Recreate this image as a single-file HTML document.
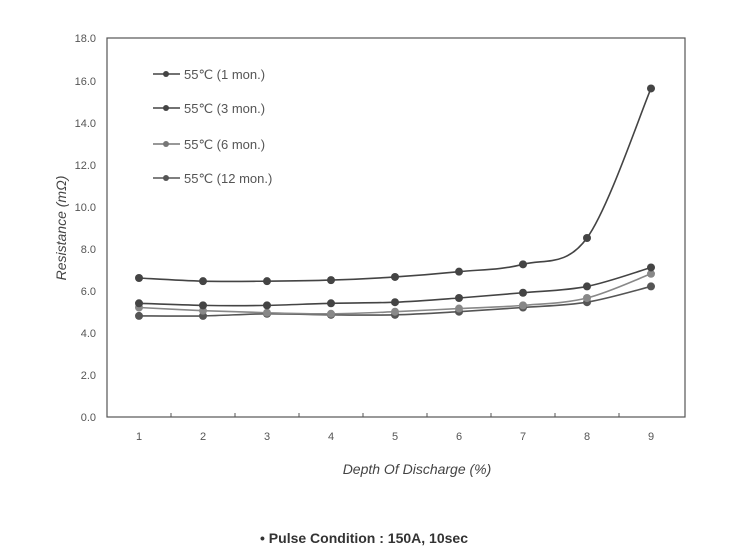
<!DOCTYPE html>
<html><head><meta charset="utf-8"><style>
body{margin:0;background:#fff}
svg{display:block;font-family:"Liberation Sans",sans-serif}
</style></head><body>
<svg id="s" width="730" height="558" viewBox="0 0 730 558" xmlns="http://www.w3.org/2000/svg">
<rect x="107" y="38" width="578" height="379" fill="none" stroke="#555" stroke-width="1.2"/>
<g font-size="11" fill="#555" text-anchor="end">
<text x="96" y="421">0.0</text><text x="96" y="379">2.0</text><text x="96" y="337">4.0</text>
<text x="96" y="295">6.0</text><text x="96" y="253">8.0</text><text x="96" y="211">10.0</text>
<text x="96" y="169">12.0</text><text x="96" y="127">14.0</text><text x="96" y="85">16.0</text>
<text x="96" y="42">18.0</text></g>
<g font-size="11" fill="#555" text-anchor="middle">
<text x="139" y="440">1</text><text x="203" y="440">2</text><text x="267" y="440">3</text>
<text x="331" y="440">4</text><text x="395" y="440">5</text><text x="459" y="440">6</text>
<text x="523" y="440">7</text><text x="587" y="440">8</text><text x="651" y="440">9</text></g>
<g stroke="#555"><line x1="171" y1="417" x2="171" y2="413"/><line x1="235" y1="417" x2="235" y2="413"/><line x1="299" y1="417" x2="299" y2="413"/><line x1="363" y1="417" x2="363" y2="413"/><line x1="427" y1="417" x2="427" y2="413"/><line x1="491" y1="417" x2="491" y2="413"/><line x1="555" y1="417" x2="555" y2="413"/><line x1="619" y1="417" x2="619" y2="413"/></g>
<text x="417" y="474" font-size="14" font-style="italic" fill="#444" text-anchor="middle">Depth Of Discharge (%)</text>
<text transform="translate(66,228) rotate(-90)" font-size="14" font-style="italic" fill="#444" text-anchor="middle">Resistance (mΩ)</text>
<text x="364" y="543" font-size="14" font-weight="bold" fill="#333" text-anchor="middle">• Pulse Condition : 150A, 10sec</text>
<g font-size="13" fill="#555">
<line x1="153" y1="74" x2="180" y2="74" stroke="#444" stroke-width="1.5"/><circle cx="166" cy="74" r="3" fill="#444"/><text x="184" y="79">55℃ (1 mon.)</text>
<line x1="153" y1="108" x2="180" y2="108" stroke="#444" stroke-width="1.5"/><circle cx="166" cy="108" r="3" fill="#444"/><text x="184" y="113">55℃ (3 mon.)</text>
<line x1="153" y1="144" x2="180" y2="144" stroke="#777" stroke-width="1.5"/><circle cx="166" cy="144" r="3" fill="#777"/><text x="184" y="149">55℃ (6 mon.)</text>
<line x1="153" y1="178" x2="180" y2="178" stroke="#555" stroke-width="1.5"/><circle cx="166" cy="178" r="3" fill="#555"/><text x="184" y="183">55℃ (12 mon.)</text>
</g>
<g id="series"></g>
</svg>
<script>
var data=[[[4.8,4.8,4.9,4.85,4.85,5.0,5.2,5.45,6.2],"#555"],
[[5.2,5.05,4.95,4.9,5.0,5.15,5.3,5.65,6.8],"#888"],
[[5.4,5.3,5.3,5.4,5.45,5.65,5.9,6.2,7.1],"#444"],
[[6.6,6.45,6.45,6.5,6.65,6.9,7.25,8.5,15.6],"#444"]];
var g=document.getElementById("series"),h="";
data.forEach(function(d){
 var p=d[0].map(function(v,i){return [139+64*i,417-v*21.06];});
 var s="M"+p[0][0]+","+p[0][1];
 for(var i=0;i<p.length-1;i++){
  var p0=p[i-1]||p[i],p1=p[i],p2=p[i+1],p3=p[i+2]||p2;
  s+=" C"+(p1[0]+(p2[0]-p0[0])/6)+","+(p1[1]+(p2[1]-p0[1])/6)+" "+(p2[0]-(p3[0]-p1[0])/6)+","+(p2[1]-(p3[1]-p1[1])/6)+" "+p2[0]+","+p2[1];
 }
 h+='<path d="'+s+'" fill="none" stroke="'+d[1]+'" stroke-width="1.6"/>';
 p.forEach(function(q){h+='<circle cx="'+q[0]+'" cy="'+q[1]+'" r="4" fill="'+d[1]+'"/>';});
});
g.innerHTML=h;
</script>
</body></html>
